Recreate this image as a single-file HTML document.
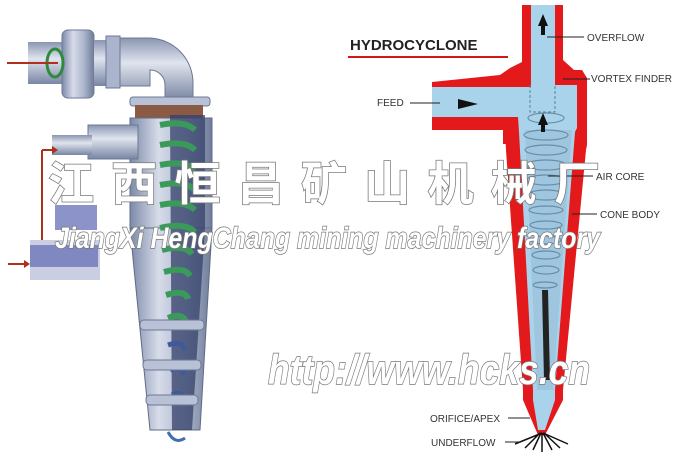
<!DOCTYPE html>
<html><head><meta charset="utf-8"><style>
html,body{margin:0;padding:0;background:#fff;}
svg{display:block}
.lbl{font-family:"Liberation Sans",sans-serif;font-size:10px;fill:#333;}
</style></head><body>
<svg width="682" height="463" viewBox="0 0 682 463" xmlns="http://www.w3.org/2000/svg">
<defs>
<linearGradient id="steel" x1="0" x2="1" y1="0" y2="0">
<stop offset="0" stop-color="#7c8aa8"/><stop offset="0.35" stop-color="#d7dcea"/><stop offset="0.7" stop-color="#a9b3c9"/><stop offset="1" stop-color="#6f7b98"/></linearGradient>
<linearGradient id="steelv" x1="0" x2="0" y1="0" y2="1">
<stop offset="0" stop-color="#8a96b2"/><stop offset="0.4" stop-color="#e0e4ee"/><stop offset="1" stop-color="#7886a3"/></linearGradient>
</defs>
<!-- LEFT ILLUSTRATION -->
<rect x="28" y="42" width="40" height="42" fill="url(#steelv)"/>
<rect x="62" y="30" width="32" height="68" rx="6" fill="url(#steel)" stroke="#6c7894"/>
<rect x="94" y="40" width="20" height="46" fill="url(#steelv)"/>
<rect x="106" y="36" width="14" height="52" fill="#aab4cc" stroke="#6c7894"/>
<path d="M120 38 H150 A45 45 0 0 1 193 83 V100 H165 V85 A15 15 0 0 0 150 70 V86 H120Z" fill="url(#steelv)" stroke="#6c7894"/>
<rect x="130" y="97" width="80" height="9" rx="3" fill="#b8c1d6" stroke="#6c7894"/>
<ellipse cx="55" cy="63" rx="8" ry="14" fill="none" stroke="#2e8b3e" stroke-width="3"/>
<line x1="7" y1="63" x2="58" y2="63" stroke="#b03020" stroke-width="2"/>
<rect x="135" y="105" width="68" height="20" fill="#8a5a44"/>
<rect x="130" y="118" width="82" height="110" fill="url(#steel)" stroke="#5f6b88"/>
<rect x="88" y="125" width="50" height="34" fill="url(#steelv)" stroke="#6c7894"/>
<rect x="52" y="135" width="40" height="20" fill="url(#steelv)"/>
<path d="M130 228 L212 228 L200 430 L150 430Z" fill="url(#steel)" stroke="#5f6b88"/>
<path d="M170 115 L205 115 L205 228 L192 430 L172 430Z" fill="#34406a" opacity="0.75"/>
<g stroke="#3a9a5a" stroke-width="6" fill="none">
<path d="M160 125 Q185 120 195 130"/><path d="M160 145 Q185 140 195 150"/><path d="M160 165 Q185 160 195 170"/>
<path d="M160 185 Q185 180 195 190"/><path d="M160 205 Q185 200 195 210"/><path d="M160 228 Q185 222 195 232"/>
<path d="M162 250 Q185 244 192 254"/><path d="M164 272 Q185 266 190 276"/><path d="M166 295 Q185 289 188 299"/>
<path d="M168 318 Q183 312 186 322"/>
</g>
<g stroke="#3f5a9a" stroke-width="5" fill="none">
<path d="M168 345 Q182 340 185 350"/><path d="M170 370 Q182 365 184 375"/><path d="M172 395 Q182 390 184 400"/>
</g>
<rect x="140" y="320" width="64" height="10" rx="4" fill="#b8c1d6" stroke="#6c7894"/>
<rect x="143" y="360" width="58" height="10" rx="4" fill="#b8c1d6" stroke="#6c7894"/>
<rect x="146" y="395" width="52" height="10" rx="4" fill="#b8c1d6" stroke="#6c7894"/>
<path d="M168 432 Q175 445 185 438" stroke="#3f6fb0" stroke-width="3" fill="none"/>
<rect x="55" y="205" width="42" height="25" fill="#8b93c8"/>
<rect x="30" y="240" width="70" height="40" fill="#c9cee0"/>
<rect x="30" y="245" width="68" height="22" fill="#7f88c0"/>
<path d="M42 150 V240" stroke="#b03020" stroke-width="2" fill="none"/>
<path d="M42 150 H52" stroke="#b03020" stroke-width="2"/>
<polygon points="52,146 58,150 52,154" fill="#b03020"/>
<line x1="8" y1="264" x2="24" y2="264" stroke="#b03020" stroke-width="2"/>
<polygon points="24,260 30,264 24,268" fill="#b03020"/>

<!-- RIGHT HYDROCYCLONE -->
<text x="350" y="50" font-family="Liberation Sans,sans-serif" font-weight="bold" font-size="15" fill="#222">HYDROCYCLONE</text>
<line x1="348" y1="57" x2="508" y2="57" stroke="#d01818" stroke-width="2"/>
<path d="M522 5 H563 V60 L574 70 H582 L587 78 V145 L586 150 L563 390 V400 L545 435 H538 L523 400 V390 L506 150 L505 130 H432 V82 L500 75 L510 68 L522 62Z" fill="#e3191c"/>
<path d="M531 5 H555 V85 H577 V128 L575 132 L555 390 V400 L545 430 H538 L533 400 V390 L519 132 L518 117 H432 V87 H531Z" fill="#a9d3ea"/>
<path d="M525 130 L572 130 L553 390 L537 390Z" fill="#9fc6df"/>
<rect x="503" y="128" width="14" height="16" fill="#e3191c"/>
<rect x="578" y="128" width="9" height="16" fill="#e3191c"/>
<path d="M530 85 V112 H555 V85" fill="none" stroke="#5d7d9a" stroke-dasharray="3 2"/>
<g stroke="#5d7d9a" stroke-width="1.2" fill="none" opacity="0.8">
<ellipse cx="546" cy="118" rx="18" ry="5"/>
<ellipse cx="546" cy="135" rx="22" ry="5"/><ellipse cx="546" cy="150" rx="21" ry="5"/><ellipse cx="546" cy="165" rx="20" ry="5"/>
<ellipse cx="546" cy="180" rx="19" ry="5"/><ellipse cx="546" cy="195" rx="18" ry="5"/><ellipse cx="546" cy="210" rx="17" ry="4"/>
<ellipse cx="546" cy="225" rx="16" ry="4"/><ellipse cx="546" cy="240" rx="15" ry="4"/><ellipse cx="546" cy="255" rx="14" ry="4"/>
<ellipse cx="546" cy="270" rx="13" ry="4"/><ellipse cx="545" cy="285" rx="12" ry="3"/>
</g>
<path d="M542 290 L548 290 L550 380 L544 380Z" fill="#222"/>
<path d="M540 433 L525 448 M541 433 L533 450 M542 433 L542 452 M543 433 L552 450 M544 433 L560 448 M542 433 L515 444 M543 433 L568 444" stroke="#111" stroke-width="1.5"/>
<polygon points="538,26 543,14 548,26" fill="#111"/><rect x="541" y="25" width="4" height="10" fill="#111"/>
<polygon points="538,125 543,113 548,125" fill="#111"/><rect x="541" y="124" width="4" height="8" fill="#111"/>
<polygon points="458,99 458,109 478,104" fill="#111"/>
<line x1="410" y1="103" x2="440" y2="103" stroke="#222" stroke-width="1"/>
<line x1="547" y1="37" x2="584" y2="37" stroke="#222"/>
<line x1="563" y1="79" x2="590" y2="79" stroke="#222"/>
<line x1="548" y1="176" x2="593" y2="176" stroke="#222"/>
<line x1="572" y1="214" x2="597" y2="214" stroke="#222"/>
<line x1="508" y1="418" x2="530" y2="418" stroke="#222"/>
<line x1="505" y1="442" x2="520" y2="442" stroke="#222"/>
<text class="lbl" x="587" y="41">OVERFLOW</text>
<text class="lbl" x="591" y="82">VORTEX FINDER</text>
<text class="lbl" x="377" y="106">FEED</text>
<text class="lbl" x="596" y="180">AIR CORE</text>
<text class="lbl" x="600" y="218">CONE BODY</text>
<text class="lbl" x="430" y="422">ORIFICE/APEX</text>
<text class="lbl" x="431" y="446">UNDERFLOW</text>

<!-- WATERMARKS -->
<g font-weight="bold" fill="#fff" stroke="#777" stroke-width="1.5" paint-order="stroke">
<text x="48" y="200" font-size="46" font-family="Noto Sans CJK SC,sans-serif" textLength="552" lengthAdjust="spacing">江西恒昌矿山机械厂</text>
<text x="55" y="248" font-size="30" font-style="italic" font-family="Liberation Sans,sans-serif" textLength="545" lengthAdjust="spacingAndGlyphs">JiangXi HengChang mining machinery factory</text>
<text x="268" y="384" font-size="42" font-style="italic" font-family="Liberation Sans,sans-serif" textLength="322" lengthAdjust="spacingAndGlyphs">http://www.hcks.cn</text>
</g>
</svg>
</body></html>
